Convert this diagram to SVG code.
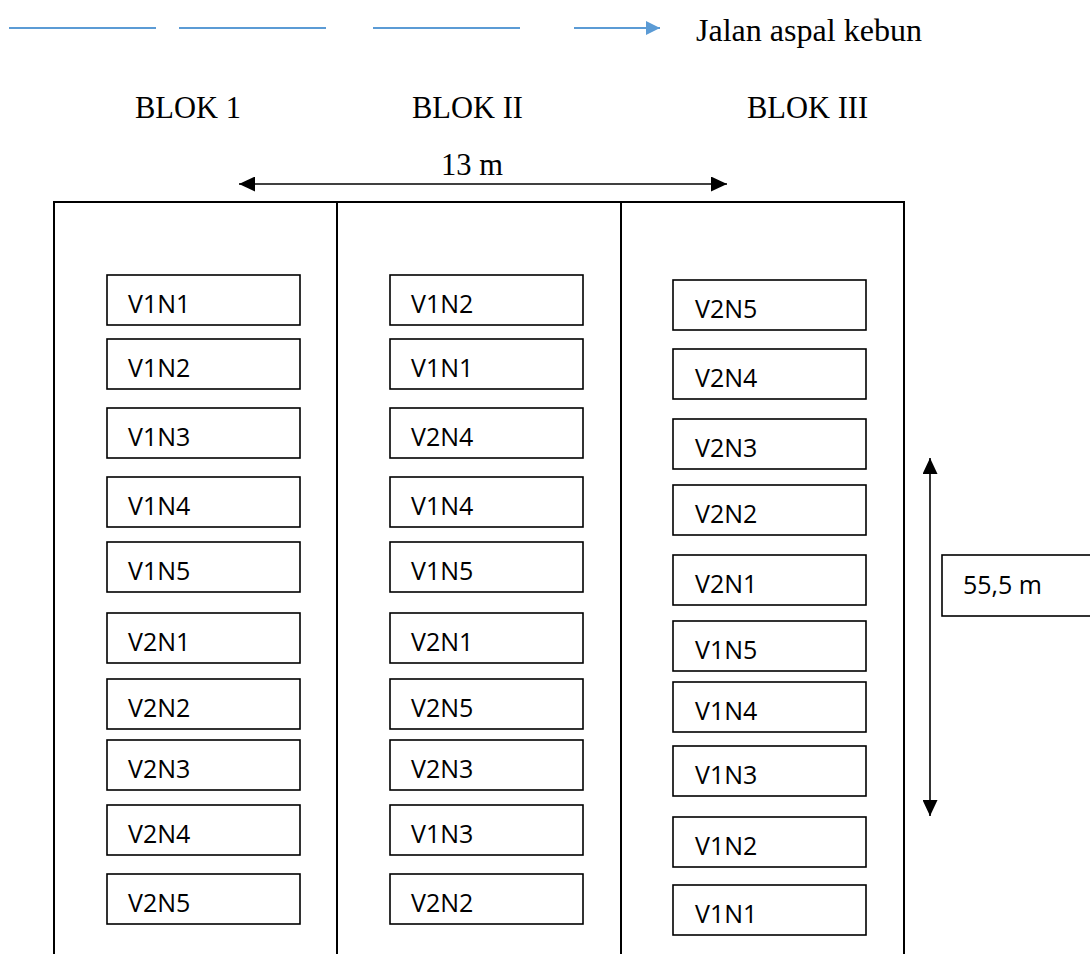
<svg xmlns="http://www.w3.org/2000/svg" width="1090" height="954" viewBox="0 0 1090 954">
<style>
.bx{fill:#fff;stroke:#000;stroke-width:1.6}
.lb{font-family:"Open Sans","Liberation Sans",sans-serif;font-size:25px;fill:#000}
.sr{font-family:"Liberation Serif","Times New Roman",serif;font-size:30.5px;fill:#000}
.fr{stroke:#000;stroke-width:2;fill:none}
.bl{stroke:#5B9BD5;stroke-width:2}
.ar{stroke:#000;stroke-width:1.6;fill:none}
</style>
<defs>
<marker id="ah" viewBox="0 0 16 15" refX="16" refY="7.5" markerWidth="16" markerHeight="15" markerUnits="userSpaceOnUse" orient="auto-start-reverse"><path d="M0,0 L16,7.5 L0,15 Z" fill="#000"/></marker>
<marker id="bh" viewBox="0 0 14 14" refX="14" refY="7" markerWidth="14" markerHeight="14" markerUnits="userSpaceOnUse" orient="auto"><path d="M0,0 L14,7 L0,14 Z" fill="#5B9BD5"/></marker>
</defs>
<rect width="1090" height="954" fill="#fff"/>
<g id="road">
<line class="bl" x1="9" y1="28" x2="156" y2="28"/>
<line class="bl" x1="179" y1="28" x2="326" y2="28"/>
<line class="bl" x1="373" y1="28" x2="520" y2="28"/>
<line class="bl" x1="574" y1="28" x2="660" y2="28" marker-end="url(#bh)"/>
<text class="sr" x="696" y="41" textLength="226" lengthAdjust="spacingAndGlyphs">Jalan aspal kebun</text>
</g>
<g id="headers">
<text class="sr" x="135" y="118">BLOK 1</text>
<text class="sr" x="412" y="118">BLOK II</text>
<text class="sr" x="747" y="118">BLOK III</text>
</g>
<g id="frame">
<path class="fr" d="M54,954 V202 H904 V954 M337,202 V954 M621,202 V954"/>
</g>
<g id="connectors">
<line class="ar" x1="239" y1="184" x2="727" y2="184" marker-start="url(#ah)" marker-end="url(#ah)"/>
<text class="sr" x="441" y="175">13 m</text>
<line class="ar" x1="930" y1="458" x2="930" y2="816" marker-start="url(#ah)" marker-end="url(#ah)"/>
</g>
<g id="dim-label">
<rect class="bx" x="942" y="555" width="160" height="61"/>
<text class="lb" x="963" y="594">55,5 m</text>
</g>
<g id="col1">
<g id="c1r1"><rect class="bx" x="107" y="275" width="193" height="50"/><text class="lb" x="128" y="313">V1N1</text></g>
<g id="c1r2"><rect class="bx" x="107" y="339" width="193" height="50"/><text class="lb" x="128" y="377">V1N2</text></g>
<g id="c1r3"><rect class="bx" x="107" y="408" width="193" height="50"/><text class="lb" x="128" y="446">V1N3</text></g>
<g id="c1r4"><rect class="bx" x="107" y="477" width="193" height="50"/><text class="lb" x="128" y="515">V1N4</text></g>
<g id="c1r5"><rect class="bx" x="107" y="542" width="193" height="50"/><text class="lb" x="128" y="580">V1N5</text></g>
<g id="c1r6"><rect class="bx" x="107" y="613" width="193" height="50"/><text class="lb" x="128" y="651">V2N1</text></g>
<g id="c1r7"><rect class="bx" x="107" y="679" width="193" height="50"/><text class="lb" x="128" y="717">V2N2</text></g>
<g id="c1r8"><rect class="bx" x="107" y="740" width="193" height="50"/><text class="lb" x="128" y="778">V2N3</text></g>
<g id="c1r9"><rect class="bx" x="107" y="805" width="193" height="50"/><text class="lb" x="128" y="843">V2N4</text></g>
<g id="c1r10"><rect class="bx" x="107" y="874" width="193" height="50"/><text class="lb" x="128" y="912">V2N5</text></g>
</g>
<g id="col2">
<g id="c2r1"><rect class="bx" x="390" y="275" width="193" height="50"/><text class="lb" x="411" y="313">V1N2</text></g>
<g id="c2r2"><rect class="bx" x="390" y="339" width="193" height="50"/><text class="lb" x="411" y="377">V1N1</text></g>
<g id="c2r3"><rect class="bx" x="390" y="408" width="193" height="50"/><text class="lb" x="411" y="446">V2N4</text></g>
<g id="c2r4"><rect class="bx" x="390" y="477" width="193" height="50"/><text class="lb" x="411" y="515">V1N4</text></g>
<g id="c2r5"><rect class="bx" x="390" y="542" width="193" height="50"/><text class="lb" x="411" y="580">V1N5</text></g>
<g id="c2r6"><rect class="bx" x="390" y="613" width="193" height="50"/><text class="lb" x="411" y="651">V2N1</text></g>
<g id="c2r7"><rect class="bx" x="390" y="679" width="193" height="50"/><text class="lb" x="411" y="717">V2N5</text></g>
<g id="c2r8"><rect class="bx" x="390" y="740" width="193" height="50"/><text class="lb" x="411" y="778">V2N3</text></g>
<g id="c2r9"><rect class="bx" x="390" y="805" width="193" height="50"/><text class="lb" x="411" y="843">V1N3</text></g>
<g id="c2r10"><rect class="bx" x="390" y="874" width="193" height="50"/><text class="lb" x="411" y="912">V2N2</text></g>
</g>
<g id="col3">
<g id="c3r1"><rect class="bx" x="673" y="280" width="193" height="50"/><text class="lb" x="695" y="318">V2N5</text></g>
<g id="c3r2"><rect class="bx" x="673" y="349" width="193" height="50"/><text class="lb" x="695" y="387">V2N4</text></g>
<g id="c3r3"><rect class="bx" x="673" y="419" width="193" height="50"/><text class="lb" x="695" y="457">V2N3</text></g>
<g id="c3r4"><rect class="bx" x="673" y="485" width="193" height="50"/><text class="lb" x="695" y="523">V2N2</text></g>
<g id="c3r5"><rect class="bx" x="673" y="555" width="193" height="50"/><text class="lb" x="695" y="593">V2N1</text></g>
<g id="c3r6"><rect class="bx" x="673" y="621" width="193" height="50"/><text class="lb" x="695" y="659">V1N5</text></g>
<g id="c3r7"><rect class="bx" x="673" y="682" width="193" height="50"/><text class="lb" x="695" y="720">V1N4</text></g>
<g id="c3r8"><rect class="bx" x="673" y="746" width="193" height="50"/><text class="lb" x="695" y="784">V1N3</text></g>
<g id="c3r9"><rect class="bx" x="673" y="817" width="193" height="50"/><text class="lb" x="695" y="855">V1N2</text></g>
<g id="c3r10"><rect class="bx" x="673" y="885" width="193" height="50"/><text class="lb" x="695" y="923">V1N1</text></g>
</g>
</svg>
